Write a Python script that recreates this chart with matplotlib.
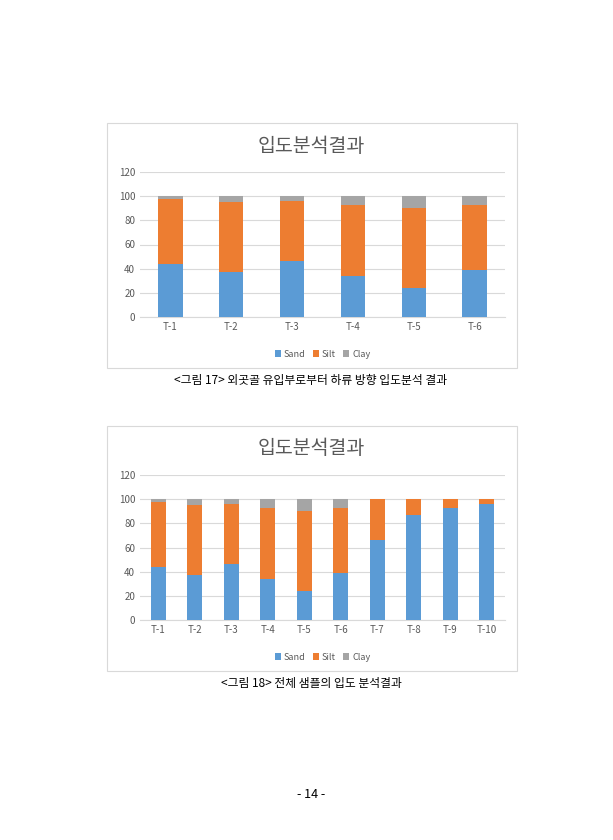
import numpy as np
import matplotlib.pyplot as plt
from matplotlib.patches import Rectangle

plt.rcParams['font.family'] = ['Noto Sans CJK KR', 'DejaVu Sans']

labels = ["T-1", "T-2", "T-3", "T-4", "T-5", "T-6", "T-7", "T-8", "T-9", "T-10"]
sand = [44, 37, 46, 34, 24, 39, 66, 87, 93, 96]
silt = [54, 58, 50, 59, 66, 54, 34, 13, 7, 4]
clay = [2, 5, 4, 7, 10, 7, 0, 0, 0, 0]

W, H = 613, 840
fig = plt.figure(figsize=(W / 100, H / 100), dpi=100)
fig.patch.set_facecolor("white")


def px(x, y, w, h):
    return [x / W, 1 - (y + h) / H, w / W, h / H]


def chart(top, n, caption, width):
    # outer chart border
    box = Rectangle((107 / W, 1 - (top + 245) / H), 410 / W, 245 / H,
                    transform=fig.transFigure, fill=False, ec="#d9d9d9", lw=0.8)
    fig.add_artist(box)
    fig.text(311 / W, 1 - (top + 23) / H, "입도분석결과", ha="center", va="center",
             fontsize=14, color="#595959")
    ax = fig.add_axes(px(140, top + 49, 365, 145))
    x = np.arange(n)
    s, si, c = np.array(sand[:n]), np.array(silt[:n]), np.array(clay[:n])
    ax.bar(x, s, width, color="#5b9bd5", label="Sand", zorder=3)
    ax.bar(x, si, width, bottom=s, color="#ed7d31", label="Silt", zorder=3)
    ax.bar(x, c, width, bottom=s + si, color="#a5a5a5", label="Clay", zorder=3)
    ax.set_ylim(0, 120)
    ax.set_yticks(range(0, 121, 20))
    ax.set_xlim(-0.5, n - 0.5)
    ax.set_xticks(x)
    ax.set_xticklabels(labels[:n])
    ax.grid(axis="y", color="#d9d9d9", lw=0.8, zorder=0)
    for sp in ax.spines.values():
        sp.set_visible(False)
    ax.spines["bottom"].set_visible(True)
    ax.spines["bottom"].set_color("#d9d9d9")
    ax.tick_params(length=0, labelsize=7, colors="#595959")
    ax.legend(loc="upper center", bbox_to_anchor=(0.5, -0.17), ncol=3, frameon=False,
              fontsize=6.5, handlelength=0.7, handleheight=0.7, columnspacing=0.8,
              handletextpad=0.3, labelcolor="#595959")
    fig.text(311 / W, 1 - (top + 258) / H, caption, ha="center", va="center",
             fontsize=8.5, color="black")


chart(123, 6, "<그림 17> 외곳골 유입부로부터 하류 방향 입도분석 결과", 0.4)
chart(426, 10, "<그림 18> 전체 샘플의 입도 분석결과", 0.4)
fig.text(311 / W, 1 - 795 / H, "- 14 -", ha="center", va="center", fontsize=9)

fig.savefig("out.png", dpi=100)
